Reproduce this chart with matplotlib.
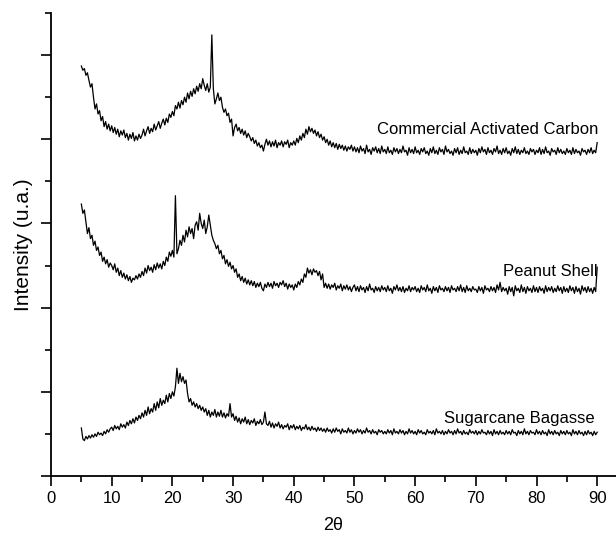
import numpy as np
from matplotlib import pyplot as plt
from matplotlib.ticker import MultipleLocator

plt.rcParams['font.family'] = ['Liberation Sans', 'DejaVu Sans']

# 2theta grid, 5 to 90 deg in 0.25 deg steps
two_theta = np.arange(5.0, 90.001, 0.25)

# Commercial Activated Carbon (offset, arb. units) - one row per 5 deg
cac = [4.87, 4.82, 4.84, 4.76, 4.79, 4.70, 4.62, 4.66, 4.50, 4.36, 4.42, 4.30, 4.34, 4.22, 4.27, 4.15, 4.21, 4.12, 4.18, 4.10,
       4.16, 4.08, 4.14, 4.06, 4.12, 4.03, 4.10, 4.05, 4.11, 4.02, 4.07, 3.99, 4.06, 4.01, 4.08, 3.98, 4.04, 3.99, 4.06, 4.01,
       4.05, 4.12, 4.04, 4.10, 4.15, 4.07, 4.13, 4.09, 4.18, 4.11, 4.16, 4.21, 4.13, 4.19, 4.24, 4.17, 4.25, 4.20, 4.30, 4.26,
       4.33, 4.28, 4.40, 4.36, 4.44, 4.37, 4.46, 4.41, 4.50, 4.44, 4.55, 4.48, 4.57, 4.51, 4.60, 4.54, 4.63, 4.57, 4.66, 4.60,
       4.72, 4.64, 4.58, 4.66, 4.56, 4.62, 5.24, 4.60, 4.42, 4.48, 4.55, 4.46, 4.50, 4.38, 4.32, 4.36, 4.28, 4.31, 4.20, 4.24,
       4.04, 4.14, 4.18, 4.10, 4.14, 4.07, 4.12, 4.05, 4.10, 4.02, 4.07, 4.03, 3.98, 4.02, 3.95, 3.99, 3.92, 3.96, 3.90, 3.93,
       3.86, 3.94, 4.00, 3.93, 3.98, 3.91, 3.97, 3.92, 3.99, 3.90, 3.96, 3.93, 3.98, 3.91, 3.97, 3.94, 3.99, 3.90, 3.96, 3.93,
       3.98, 3.93, 4.01, 3.96, 4.04, 3.99, 4.07, 4.02, 4.12, 4.06, 4.15, 4.09, 4.13, 4.07, 4.11, 4.04, 4.09, 4.02, 4.06, 3.99,
       4.03, 3.96, 4.00, 3.93, 3.98, 3.91, 3.96, 3.90, 3.95, 3.88, 3.94, 3.89, 3.93, 3.87, 3.92, 3.86, 3.91, 3.88, 3.93, 3.86,
       3.91, 3.85, 3.90, 3.84, 3.92, 3.86, 3.89, 3.83, 3.93, 3.85, 3.88, 3.82, 3.90, 3.86, 3.91, 3.84, 3.89, 3.83, 3.92, 3.85,
       3.88, 3.83, 3.91, 3.84, 3.87, 3.82, 3.90, 3.85, 3.89, 3.83, 3.88, 3.84, 3.92, 3.85, 3.87, 3.81, 3.90, 3.84, 3.88, 3.83,
       3.91, 3.84, 3.87, 3.82, 3.89, 3.85, 3.90, 3.83, 3.86, 3.81, 3.89, 3.84, 3.91, 3.83, 3.87, 3.82, 3.90, 3.85, 3.88, 3.82,
       3.92, 3.85, 3.88, 3.83, 3.86, 3.81, 3.89, 3.84, 3.90, 3.82, 3.87, 3.83, 3.91, 3.84, 3.86, 3.82, 3.90, 3.83, 3.88, 3.84,
       3.87, 3.81, 3.89, 3.84, 3.91, 3.85, 3.88, 3.82, 3.90, 3.84, 3.87, 3.82, 3.89, 3.85, 3.92, 3.83, 3.87, 3.82, 3.89, 3.84,
       3.90, 3.83, 3.86, 3.81, 3.89, 3.84, 3.91, 3.83, 3.88, 3.82, 3.87, 3.84, 3.90, 3.83, 3.86, 3.82, 3.89, 3.85, 3.88, 3.82,
       3.87, 3.84, 3.90, 3.82, 3.88, 3.83, 3.91, 3.84, 3.86, 3.81, 3.89, 3.85, 3.87, 3.82, 3.90, 3.84, 3.88, 3.83, 3.86, 3.82,
       3.89, 3.84, 3.87, 3.82, 3.90, 3.83, 3.88, 3.84, 3.86, 3.81, 3.89, 3.85, 3.87, 3.82, 3.88, 3.84, 3.90, 3.83, 3.87, 3.84,
       3.96]

# Peanut Shell
peanut = [3.23, 3.12, 3.16, 3.02, 2.88, 2.95, 2.82, 2.86, 2.74, 2.79, 2.68, 2.72, 2.62, 2.66, 2.55, 2.60, 2.52, 2.57, 2.48, 2.53,
          2.50, 2.45, 2.52, 2.42, 2.47, 2.38, 2.44, 2.36, 2.41, 2.34, 2.39, 2.32, 2.37, 2.30, 2.35, 2.33, 2.38, 2.34, 2.40, 2.36,
          2.43, 2.38, 2.47, 2.41, 2.50, 2.44, 2.48, 2.42, 2.51, 2.45, 2.53, 2.47, 2.52, 2.46, 2.55, 2.50, 2.60, 2.55, 2.66, 2.61,
          2.68, 2.60, 3.33, 2.64, 2.70, 2.80, 2.74, 2.86, 2.78, 2.92, 2.84, 2.96, 2.88, 2.94, 2.82, 2.98, 3.02, 2.92, 3.12, 3.00,
          2.94, 3.04, 2.88, 2.96, 3.10, 2.98, 2.86, 2.80, 2.76, 2.70, 2.74, 2.64, 2.68, 2.58, 2.62, 2.52, 2.57, 2.49, 2.54, 2.46,
          2.50, 2.42, 2.46, 2.36, 2.40, 2.32, 2.37, 2.30, 2.35, 2.28, 2.33, 2.27, 2.32, 2.26, 2.31, 2.24, 2.29, 2.25, 2.30, 2.23,
          2.20, 2.28, 2.24, 2.30, 2.25, 2.29, 2.23, 2.31, 2.26, 2.29, 2.24, 2.30, 2.27, 2.32, 2.25, 2.29, 2.22, 2.28, 2.24, 2.27,
          2.21, 2.28, 2.24, 2.31, 2.27, 2.34, 2.30, 2.40, 2.36, 2.47, 2.41, 2.45, 2.39, 2.46, 2.42, 2.44, 2.38, 2.43, 2.33, 2.40,
          2.24, 2.29, 2.23, 2.28, 2.22, 2.27, 2.24, 2.29, 2.21, 2.26, 2.23, 2.28, 2.20, 2.26, 2.22, 2.27, 2.21, 2.25, 2.19, 2.24,
          2.27, 2.20, 2.25, 2.19, 2.26, 2.21, 2.24, 2.18, 2.25, 2.20, 2.28, 2.21, 2.23, 2.18, 2.25, 2.20, 2.24, 2.19, 2.26, 2.21,
          2.24, 2.19, 2.26, 2.20, 2.23, 2.17, 2.25, 2.21, 2.27, 2.20, 2.24, 2.19, 2.25, 2.18, 2.23, 2.20, 2.26, 2.19, 2.24, 2.21,
          2.25, 2.19, 2.23, 2.18, 2.26, 2.21, 2.24, 2.19, 2.27, 2.20, 2.23, 2.17, 2.25, 2.20, 2.24, 2.18, 2.26, 2.21, 2.23, 2.19,
          2.25, 2.20, 2.24, 2.18, 2.26, 2.21, 2.23, 2.19, 2.25, 2.20, 2.27, 2.19, 2.24, 2.18, 2.26, 2.20, 2.23, 2.19, 2.25, 2.21,
          2.22, 2.18, 2.25, 2.20, 2.24, 2.17, 2.26, 2.21, 2.23, 2.19, 2.25, 2.20, 2.24, 2.18, 2.27, 2.21, 2.30, 2.19, 2.24, 2.20,
          2.23, 2.16, 2.25, 2.19, 2.24, 2.14, 2.26, 2.20, 2.23, 2.18, 2.27, 2.19, 2.24, 2.17, 2.25, 2.20, 2.23, 2.18, 2.26, 2.19,
          2.24, 2.18, 2.25, 2.20, 2.23, 2.17, 2.26, 2.19, 2.24, 2.20, 2.25, 2.18, 2.23, 2.19, 2.26, 2.20, 2.24, 2.17, 2.25, 2.19,
          2.23, 2.18, 2.26, 2.20, 2.24, 2.17, 2.25, 2.19, 2.23, 2.16, 2.26, 2.20, 2.24, 2.18, 2.25, 2.19, 2.23, 2.17, 2.24, 2.19,
          2.48]

# Sugarcane Bagasse
bagasse = [0.57, 0.44, 0.42, 0.47, 0.44, 0.48, 0.45, 0.49, 0.46, 0.50, 0.47, 0.52, 0.49, 0.51, 0.48, 0.53, 0.50, 0.55, 0.52, 0.56,
           0.58, 0.54, 0.60, 0.56, 0.59, 0.55, 0.62, 0.58, 0.61, 0.57, 0.64, 0.60, 0.66, 0.62, 0.68, 0.63, 0.70, 0.66, 0.72, 0.68,
           0.75, 0.70, 0.78, 0.72, 0.82, 0.74, 0.80, 0.76, 0.86, 0.78, 0.88, 0.81, 0.92, 0.84, 0.90, 0.86, 0.96, 0.88, 0.98, 0.92,
           1.00, 0.95, 1.06, 1.28, 1.10, 1.22, 1.12, 1.18, 1.10, 1.14, 0.98, 0.88, 0.92, 0.84, 0.88, 0.82, 0.86, 0.80, 0.84, 0.78,
           0.82, 0.76, 0.80, 0.72, 0.78, 0.70, 0.76, 0.72, 0.79, 0.70, 0.76, 0.71, 0.78, 0.70, 0.75, 0.69, 0.74, 0.71, 0.86, 0.70,
           0.74, 0.66, 0.71, 0.64, 0.69, 0.62, 0.68, 0.64, 0.70, 0.62, 0.67, 0.61, 0.66, 0.63, 0.68, 0.60, 0.65, 0.62, 0.67, 0.61,
           0.64, 0.76, 0.62, 0.60, 0.65, 0.58, 0.63, 0.57, 0.62, 0.59, 0.64, 0.57, 0.61, 0.56, 0.60, 0.58, 0.62, 0.55, 0.60, 0.57,
           0.61, 0.55, 0.59, 0.56, 0.60, 0.54, 0.58, 0.56, 0.61, 0.55, 0.58, 0.54, 0.59, 0.55, 0.57, 0.53, 0.58, 0.54, 0.57, 0.53,
           0.56, 0.52, 0.57, 0.53, 0.55, 0.51, 0.56, 0.52, 0.57, 0.53, 0.55, 0.50, 0.56, 0.52, 0.54, 0.51, 0.57, 0.52, 0.55, 0.50,
           0.54, 0.51, 0.56, 0.52, 0.55, 0.50, 0.54, 0.51, 0.57, 0.52, 0.54, 0.50, 0.55, 0.51, 0.53, 0.49, 0.55, 0.52, 0.54, 0.50,
           0.53, 0.50, 0.55, 0.51, 0.54, 0.49, 0.56, 0.51, 0.53, 0.50, 0.55, 0.51, 0.54, 0.49, 0.53, 0.50, 0.56, 0.51, 0.54, 0.50,
           0.53, 0.49, 0.55, 0.51, 0.54, 0.50, 0.52, 0.49, 0.55, 0.51, 0.53, 0.50, 0.54, 0.49, 0.56, 0.51, 0.53, 0.50, 0.54, 0.49,
           0.53, 0.50, 0.55, 0.51, 0.53, 0.49, 0.54, 0.50, 0.56, 0.51, 0.53, 0.49, 0.54, 0.50, 0.52, 0.49, 0.55, 0.51, 0.53, 0.50,
           0.54, 0.49, 0.53, 0.50, 0.55, 0.51, 0.52, 0.49, 0.54, 0.50, 0.53, 0.48, 0.55, 0.50, 0.53, 0.49, 0.54, 0.50, 0.52, 0.49,
           0.54, 0.50, 0.53, 0.49, 0.55, 0.51, 0.52, 0.48, 0.54, 0.50, 0.53, 0.49, 0.56, 0.50, 0.53, 0.49, 0.54, 0.51, 0.52, 0.49,
           0.55, 0.50, 0.53, 0.49, 0.54, 0.50, 0.52, 0.48, 0.55, 0.50, 0.53, 0.49, 0.54, 0.50, 0.52, 0.48, 0.54, 0.50, 0.53, 0.49,
           0.54, 0.50, 0.52, 0.48, 0.55, 0.50, 0.53, 0.49, 0.54, 0.50, 0.52, 0.48, 0.53, 0.49, 0.54, 0.50, 0.52, 0.48, 0.53, 0.49,
           0.52]

labels = ['Commercial Activated Carbon', 'Peanut Shell', 'Sugarcane Bagasse']
label_x = [90.2, 90.0, 89.5]
label_y = [4.12, 2.43, 0.68]


def print_graph():
    fig = plt.figure(figsize=(6.16, 5.35), dpi=100)
    ax = fig.add_axes([0.0828, 0.1103, 0.9172, 0.8654])

    for series in (cac, peanut, bagasse):
        ax.plot(two_theta, series, color='black', lw=0.9)

    for lx, ly, txt in zip(label_x, label_y, labels):
        ax.text(lx, ly, txt, ha='right', va='center', fontsize=12)

    ax.set_xlim(0, 93.1)
    ax.set_ylim(0, 5.5)
    ax.xaxis.set_major_locator(MultipleLocator(10))
    ax.xaxis.set_minor_locator(MultipleLocator(5))
    ax.yaxis.set_major_locator(MultipleLocator(1))
    ax.yaxis.set_minor_locator(MultipleLocator(0.5))
    ax.set_xticks(np.arange(0, 91, 10))
    ax.set_yticklabels([])

    for s in ('top', 'right'):
        ax.spines[s].set_visible(False)
    for s in ('left', 'bottom'):
        ax.spines[s].set_linewidth(1.3)

    ax.tick_params(which='major', direction='out', length=7, width=1.2, labelsize=12, pad=4)
    ax.tick_params(which='minor', direction='out', length=4, width=1.2)

    ax.set_xlabel('2θ', fontsize=13, labelpad=8)
    ax.set_ylabel('Intensity (u.a.)', fontsize=15, labelpad=2)

    plt.savefig('out.png', dpi=100)
    plt.close()


print_graph()
